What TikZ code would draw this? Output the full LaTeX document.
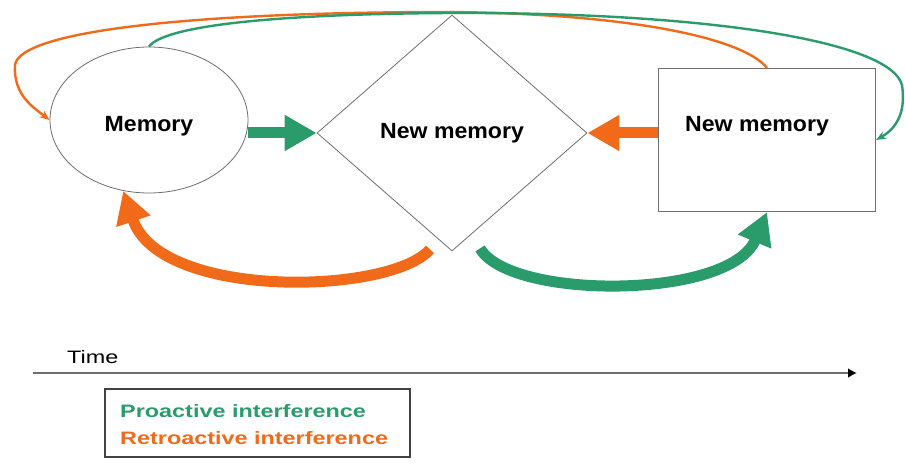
\documentclass[tikz,border=0pt]{standalone}
\usepackage{fontspec}
\setmainfont{Liberation Sans}
\newfontfamily\boxfont[FakeStretch=1.05]{Liberation Sans}
\newfontfamily\keyfont[FakeStretch=1.3]{Liberation Sans}
\usepackage{xcolor}
\definecolor{IntfGreen}{HTML}{2A9B6B}
\definecolor{IntfOrange}{HTML}{F06A1A}
\definecolor{IntfLine}{HTML}{6E6E6E}
\usepackage{tikz}
\usetikzlibrary{arrows.meta,positioning,calc,shapes.geometric}

\begin{document}
\begin{tikzpicture}[
  x=1pt,y=-1pt,
  memnode/.style={draw=IntfLine,line width=0.8pt,fill=white,inner sep=0pt,font=\boxfont\bfseries\fontsize{22}{26}\selectfont},
  fatarrow/.style={line width=11pt,-{Triangle[length=32pt,width=34pt]}},
  thinarrow/.style={line width=2.4pt,-{Stealth[length=10pt,width=8pt]}},
  keytext/.style={font=\keyfont\bfseries\fontsize{18}{21}\selectfont,anchor=west,inner sep=0pt}
]
  \useasboundingbox (0,0) rectangle (905,465);
  % the three memories
  \node[memnode,ellipse,minimum width=198pt,minimum height=146pt] (mem) at (149,120) {};
  \node[memnode,draw=none,fill=none] (memlabel) at ([yshift=-6pt]mem.center) {Memory};
  \node[memnode,diamond,aspect=1.15,minimum width=270pt,minimum height=236pt] (dia) at (452,133) {New memory};
  \node[memnode,rectangle,line width=1.1pt,minimum width=217pt,minimum height=143pt] (rect) at (767,140) {};
  \node[memnode,draw=none,fill=none] (rectlabel) at ([xshift=-10pt,yshift=14pt]rect.center) {New memory};
  % straight arrows
  \draw[fatarrow,IntfGreen] (mem.east |- dia.west) -- (dia.west);
  \draw[fatarrow,IntfOrange] (rect.west |- dia.east) -- (dia.east);
  % curved arrows below
  \coordinate (retroStart) at ($(dia.south)+(-22,-2)$);
  \coordinate (proStart) at ($(dia.south)+(28,-3)$);
  \draw[fatarrow,IntfOrange] (retroStart) .. controls (390,295) and (160,300) .. (mem.250);
  \draw[fatarrow,IntfGreen] (proStart) .. controls (510,300) and (730,300) .. (rect.south);
  % long arrows over the top
  \draw[thinarrow,IntfOrange] (rect.north) .. controls (745,40) and (640,14) .. (450,12)
    .. controls (200,12) and (20,30) .. (15,65) .. controls (13,95) and (34,108) .. (mem.west);
  \draw[thinarrow,IntfGreen] (mem.north) .. controls (165,25) and (280,14) .. (450,13)
    .. controls (700,12) and (890,40) .. (902,85) .. controls (906,112) and (897,128) .. (rect.east);
  % time line
  \coordinate (tstart) at (33,373);
  \coordinate (tend) at (857,373);
  \draw[line width=2.8pt,draw=IntfLine,-{Latex[length=9pt,width=10pt,color=black]}] (tstart) -- (tend);
  \node[font=\keyfont\fontsize{18}{21}\selectfont,anchor=base west,inner sep=0pt] (timelabel) at (67,363) {Time};
  % key
  \node[draw=IntfLine!60!black,line width=1.2pt,minimum width=305pt,minimum height=68pt] (keybox) at (257.5,423) {};
  \node[keytext,text=IntfGreen] (prolabel) at (120,411) {Proactive interference};
  \node[keytext,text=IntfOrange] (retrolabel) at (120,438) {Retroactive interference};
\end{tikzpicture}
\end{document}
